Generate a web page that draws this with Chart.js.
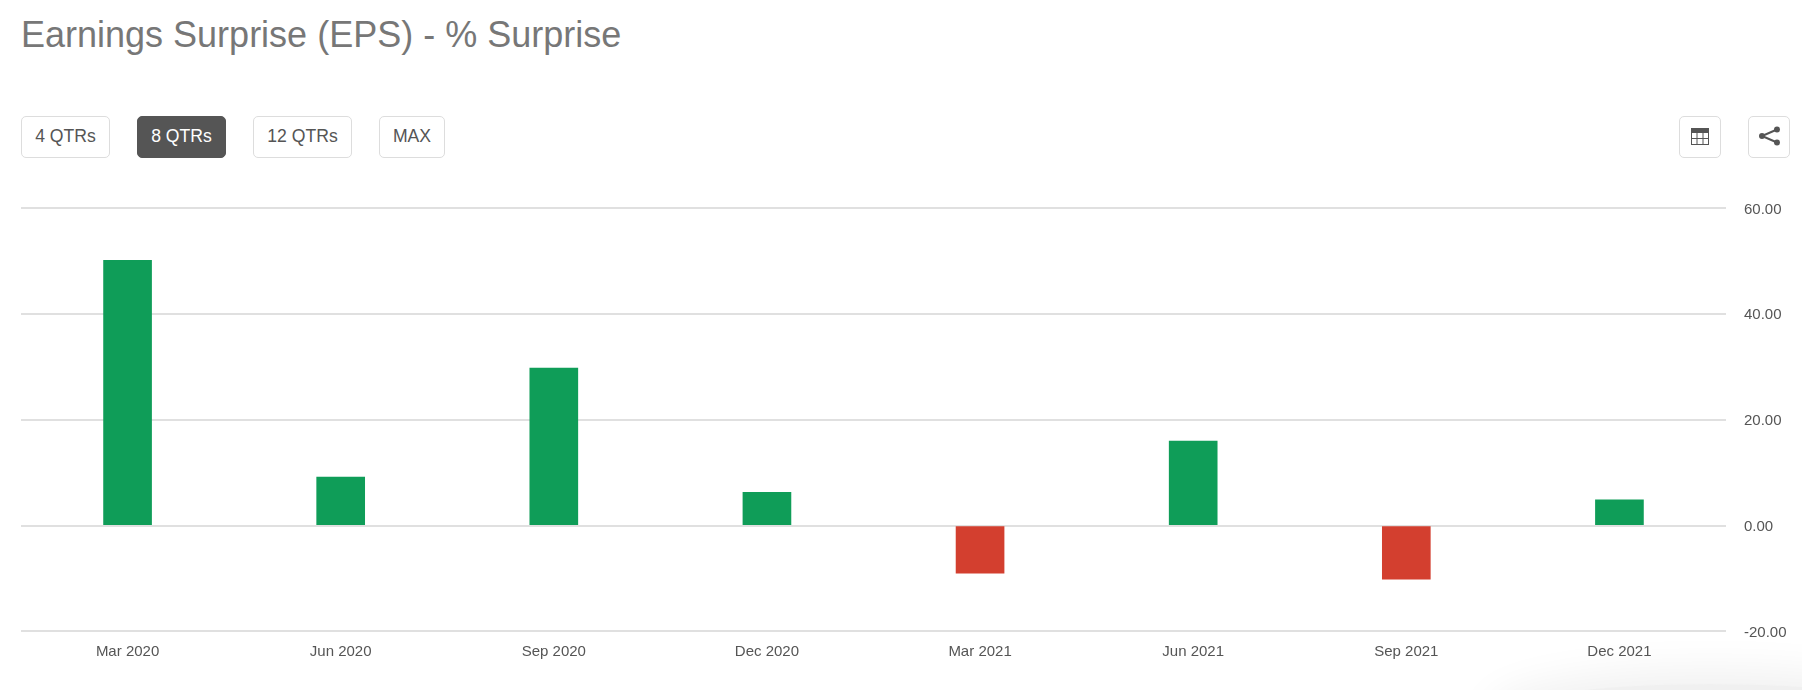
<!DOCTYPE html>
<html lang="en">
<head>
<meta charset="utf-8">
<title>Earnings Surprise (EPS) - % Surprise</title>
<script src="https://cdn.jsdelivr.net/npm/chart.js@4"></script>
<style>
    html, body { margin: 0; padding: 0; background: #fff; }
    body { position: relative; width: 1802px; height: 690px; overflow: hidden; font-family: "Liberation Sans", Arial, sans-serif; }
    h1 { position: absolute; left: 21px; top: 13px; margin: 0; font-size: 36px; line-height: 44px; font-weight: 400; color: #777; white-space: nowrap; }
    .btn { position: absolute; top: 116px; height: 40px; line-height: 38px; box-sizing: content-box; border: 1px solid #ddd; border-radius: 5px; text-align: center; font-size: 17.6px; color: #555; background: #fff; }
    .btn.active { background: #555; border-color: #555; color: #fff; }
    .btn svg { position: absolute; left: 0; top: 0; }
    #chart-wrap { position: absolute; left: 0; top: 0; width: 1802px; height: 690px; }
    #smudge { position: absolute; left: 1500px; top: 684px; width: 420px; height: 60px; border-radius: 50%; box-shadow: 0 0 40px 14px rgba(0, 0, 0, 0.06); background: rgba(0, 0, 0, 0.06); }
</style>
</head>
<body>
<div id="smudge"></div>
<h1>Earnings Surprise (EPS) - % Surprise</h1>
<div class="btn" style="left:21px;width:87px">4 QTRs</div>
<div class="btn active" style="left:137px;width:87px">8 QTRs</div>
<div class="btn" style="left:253px;width:97px">12 QTRs</div>
<div class="btn" style="left:379px;width:64px">MAX</div>
<div class="btn" style="left:1679px;width:40px">
    <svg width="40" height="40" viewBox="0 0 40 40">
        <rect x="11" y="11" width="18" height="5" fill="#555"/>
        <rect x="11.5" y="11.5" width="17" height="16" fill="none" stroke="#555"/>
        <path d="M17 16v11M23 16v11M11 21.5h18" stroke="#555" fill="none"/>
    </svg>
</div>
<div class="btn" style="left:1748px;width:40px">
    <svg width="40" height="40" viewBox="0 0 40 40">
        <path d="M28 12.5L13 19L28 25.5" stroke="#555" stroke-width="2" fill="none"/>
        <circle cx="28" cy="12.5" r="3" fill="#555"/>
        <circle cx="13" cy="19" r="3" fill="#555"/>
        <circle cx="28" cy="25.5" r="3" fill="#555"/>
    </svg>
</div>
<div id="chart-wrap"><canvas id="surprise-chart"></canvas></div>

<script>
const quarters = ['Mar 2020', 'Jun 2020', 'Sep 2020', 'Dec 2020', 'Mar 2021', 'Jun 2021', 'Sep 2021', 'Dec 2021'];
const surprisePct = [50.2, 9.2, 29.8, 6.3, -9.0, 16.0, -10.1, 4.9];
const yTicks = [-20, 0, 20, 40, 60];

const GREEN = '#0f9d58';
const RED = '#d33f2f';

// Initialize
document.addEventListener('DOMContentLoaded', () => {
    const ctx = document.getElementById('surprise-chart');
    new Chart(ctx, {
        type: 'bar',
        data: {
            labels: quarters,
            datasets: [{
                label: '% Surprise',
                data: surprisePct,
                backgroundColor: surprisePct.map(v => (v < 0 ? RED : GREEN)),
                barThickness: 48
            }]
        },
        options: {
            responsive: true,
            maintainAspectRatio: false,
            animation: false,
            layout: { padding: { left: 21, top: 208.4, right: 0, bottom: 0 } },
            plugins: {
                legend: { display: false },
                title: { display: false },
                tooltip: { enabled: false }
            },
            scales: {
                x: {
                    grid: { display: false, drawTicks: false },
                    border: { display: false },
                    ticks: {
                        color: '#555',
                        font: { family: '"Liberation Sans", Arial, sans-serif', size: 15 },
                        padding: 11,
                        maxRotation: 0
                    },
                    afterFit: scale => { scale.height = 58.6; }
                },
                y: {
                    position: 'right',
                    min: yTicks[0],
                    max: yTicks[yTicks.length - 1],
                    afterBuildTicks: scale => { scale.ticks = yTicks.map(value => ({ value })); },
                    grid: { color: '#e0e0e0', lineWidth: 2, drawTicks: false },
                    border: { display: false },
                    ticks: {
                        color: '#555',
                        font: { family: '"Liberation Sans", Arial, sans-serif', size: 15 },
                        crossAlign: 'near',
                        padding: 18,
                        labelOffset: 1,
                        callback: value => value.toFixed(2)
                    },
                    afterFit: scale => { scale.width = 76; }
                }
            }
        }
    });
});
</script>
</body>
</html>
